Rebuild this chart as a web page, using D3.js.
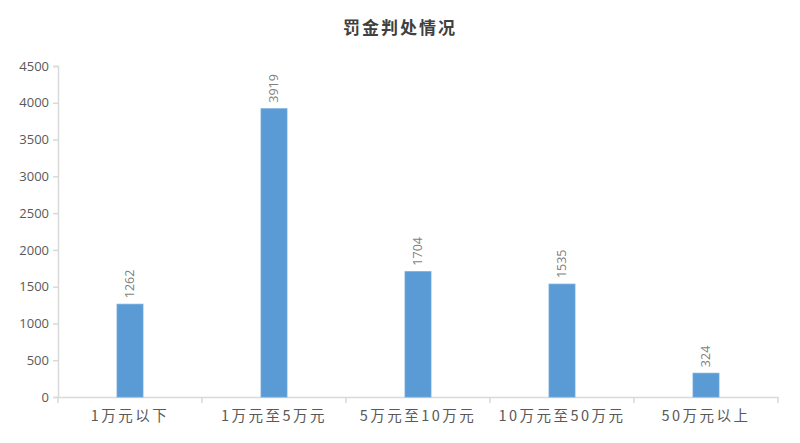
<!DOCTYPE html>
<html><head><meta charset="utf-8">
<script src="https://cdn.jsdelivr.net/npm/d3@7"></script>
<style>body{margin:0;background:#fff}</style>
</head><body>
<svg id="c" width="800" height="443"></svg>
<script>
const categories = ["1万元以下","1万元至5万元","5万元至10万元","10万元至50万元","50万元以上"];
const values = [1262, 3919, 1704, 1535, 324];
const yTicks = [0,500,1000,1500,2000,2500,3000,3500,4000,4500];
const title = "罚金判处情况";

const svg = d3.select("#c");
const m = {l:58, r:22, t:66, b:46};
const W = 800, H = 443;
const x = d3.scaleBand().domain(categories).range([m.l, W-m.r]).paddingInner(0).paddingOuter(0);
const y = d3.scaleLinear().domain([0,4500]).range([H-m.b, m.t]);
const axisColor = "#d9d9d9";
const textColor = "#595959";

svg.append("text").attr("x",400).attr("y",34).attr("text-anchor","middle")
  .attr("font-family","'Noto Sans CJK SC'").attr("font-weight","bold").attr("font-size",17)
  .attr("letter-spacing",2).attr("fill","#404040").text(title);

// y axis
const ya = svg.append("g").attr("transform",`translate(${m.l},0)`)
  .call(d3.axisLeft(y).tickValues(yTicks).tickFormat(d3.format("d")).tickSize(5).tickPadding(4));
ya.select(".domain").attr("stroke",axisColor).attr("stroke-width",1.5);
ya.selectAll(".tick line").attr("stroke",axisColor).attr("stroke-width",1.5);
ya.selectAll(".tick text").attr("fill",textColor).attr("font-size",13)
  .attr("font-family","'Open Sans','DejaVu Sans',sans-serif");

// x axis
const xa = svg.append("g").attr("transform",`translate(0,${H-m.b})`)
  .call(d3.axisBottom(x).tickSize(0).tickPadding(14));
xa.select(".domain").attr("stroke",axisColor).attr("stroke-width",1.5);
xa.selectAll(".tick text").attr("fill",textColor).attr("font-size",14.5)
  .attr("letter-spacing",2.5).attr("font-family","'Noto Sans CJK SC',sans-serif");
const edges = categories.map(c=>x(c)).concat([x(categories[categories.length-1])+x.bandwidth()]);
svg.append("g").selectAll("line").data(edges).join("line")
  .attr("x1",d=>d).attr("x2",d=>d).attr("y1",H-m.b).attr("y2",H-m.b+6)
  .attr("stroke",axisColor).attr("stroke-width",1.5);

const bw = 26;
svg.append("g").selectAll("rect").data(values).join("rect")
  .attr("x",(d,i)=>x(categories[i])+x.bandwidth()/2-bw/2)
  .attr("y",d=>y(d)).attr("width",bw).attr("height",d=>y(0)-y(d))
  .attr("fill","#5b9bd5").attr("stroke","#6fa8dc").attr("stroke-width",0.8);

svg.append("g").selectAll("text").data(values).join("text")
  .attr("transform",(d,i)=>`translate(${x(categories[i])+x.bandwidth()/2+4},${y(d)-6}) rotate(-90)`)
  .attr("text-anchor","start").attr("font-size",12.5).attr("fill","#7f7f7f")
  .attr("font-family","'Open Sans','DejaVu Sans',sans-serif").text(d=>d);
</script>
</body></html>
